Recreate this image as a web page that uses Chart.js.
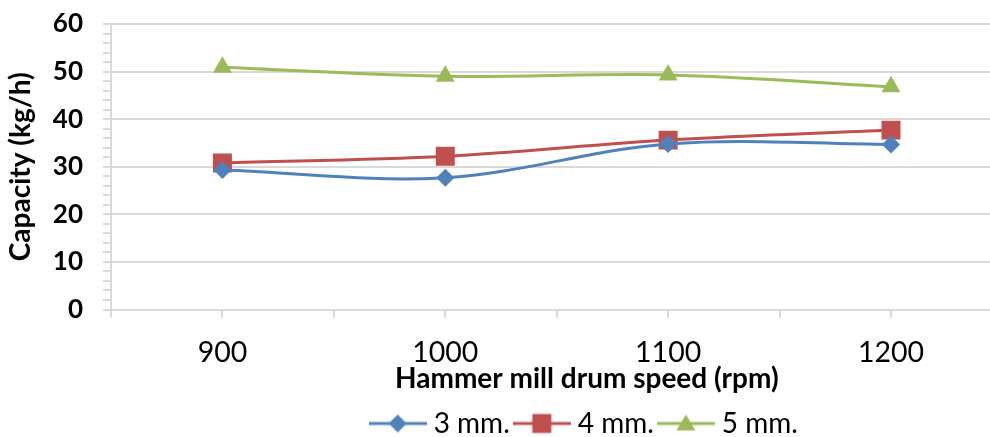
<!DOCTYPE html>
<html>
<head>
<meta charset="utf-8">
<title>Capacity vs drum speed</title>
<script src="https://cdn.jsdelivr.net/npm/chart.js@4.4.1/dist/chart.umd.min.js"></script>
<style>
    html, body { margin: 0; padding: 0; background: #fff; overflow: hidden; }
    #wrap { width: 990px; height: 437px; overflow: hidden; }
    canvas { display: block; }
</style>
</head>
<body>
<div id="wrap"><canvas id="chart" width="1076" height="437"></canvas></div>
<script>
// data
const speeds = [900, 1000, 1100, 1200];
const cap3mm = [29.3, 27.7, 34.8, 34.7];
const cap4mm = [30.8, 32.2, 35.6, 37.7];
const cap5mm = [50.9, 49.0, 49.3, 46.8];
const seriesNames = ['3 mm.', '4 mm.', '5 mm.'];
const yLabels = [0, 10, 20, 30, 40, 50, 60];

const colors = ['#4F81BD', '#C0504D', '#9BBB59'];
const gridGray = '#d9d9d9';

// legend icon: short line with the marker in the middle
function legendIcon(color, shape) {
    const c = document.createElement('canvas');
    c.width = 58;
    c.height = 24;
    const g = c.getContext('2d');
    g.strokeStyle = color;
    g.lineWidth = 3;
    g.beginPath();
    g.moveTo(0, 12);
    g.lineTo(58, 12);
    g.stroke();
    g.fillStyle = color;
    g.beginPath();
    if (shape === 'diamond') {
        g.moveTo(20, 12); g.lineTo(29, 3); g.lineTo(38, 12); g.lineTo(29, 21);
    } else if (shape === 'square') {
        g.rect(19.5, 2.5, 19, 19);
    } else {
        g.moveTo(29, 3); g.lineTo(38.5, 19); g.lineTo(19.5, 19);
    }
    g.closePath();
    g.fill();
    return c;
}
const icons = [legendIcon(colors[0], 'diamond'), legendIcon(colors[1], 'square'), legendIcon(colors[2], 'triangle')];

function toPoints(values) {
    return values.map((v, i) => ({ x: speeds[i], y: v }));
}

const ctx = document.getElementById('chart').getContext('2d');
new Chart(ctx, {
    type: 'line',
    data: {
        datasets: [{
            label: seriesNames[0],
            data: toPoints(cap3mm),
            borderColor: colors[0],
            backgroundColor: colors[0],
            borderWidth: 3,
            pointStyle: 'rectRot',
            pointRadius: 9,
            pointBorderWidth: 0,
            tension: 0.35
        }, {
            label: seriesNames[1],
            data: toPoints(cap4mm),
            borderColor: colors[1],
            backgroundColor: colors[1],
            borderWidth: 3,
            pointStyle: 'rect',
            pointRadius: 13.4,
            pointBorderWidth: 0,
            tension: 0.35
        }, {
            label: seriesNames[2],
            data: toPoints(cap5mm),
            borderColor: colors[2],
            backgroundColor: colors[2],
            borderWidth: 3,
            pointStyle: 'triangle',
            pointRadius: 11,
            pointBorderWidth: 0,
            tension: 0.35
        }]
    },
    options: {
        responsive: false,
        animation: false,
        layout: { padding: { top: 24, left: 0, right: 0, bottom: -10.5 } },
        plugins: {
            tooltip: { enabled: false },
            legend: {
                position: 'bottom',
                fullSize: false,
                labels: {
                    usePointStyle: true,
                    pointStyleWidth: 44,
                    padding: 10,
                    color: '#000',
                    font: { family: 'Lato', size: 28 },
                    generateLabels: function(chart) {
                        return chart.data.datasets.map((ds, i) => ({
                            text: ds.label,
                            pointStyle: icons[i],
                            fillStyle: ds.borderColor,
                            strokeStyle: ds.borderColor,
                            lineWidth: 0,
                            hidden: false,
                            datasetIndex: i,
                            fontColor: '#000'
                        }));
                    }
                }
            }
        },
        scales: {
            x: {
                type: 'linear',
                min: 850,
                max: 1277,
                afterFit: function(scale) {
                    scale.height = 90;
                    scale.paddingLeft = 0;
                    scale.paddingRight = 0;
                },
                grid: {
                    drawOnChartArea: false,
                    color: gridGray,
                    tickColor: gridGray,
                    tickLength: 8,
                    lineWidth: 2
                },
                border: { color: gridGray, width: 2 },
                ticks: {
                    stepSize: 50,
                    includeBounds: false,
                    autoSkip: false,
                    maxRotation: 0,
                    padding: 18,
                    color: '#000',
                    font: { family: 'Lato', size: 28.5 },
                    callback: v => speeds.includes(v) ? String(v) : ''
                },
                title: {
                    display: true,
                    text: 'Hammer mill drum speed (rpm)',
                    color: '#000',
                    font: { family: 'Lato', size: 28, weight: 'bold' },
                    padding: { top: 0, bottom: 4.2 }
                }
            },
            y: {
                min: 0,
                max: 60,
                afterFit: function(scale) {
                    scale.width = 111;
                    scale.paddingTop = 0;
                    scale.paddingBottom = 0;
                },
                grid: {
                    color: c => (c.tick && c.tick.value % 10 === 0) ? gridGray : 'rgba(0,0,0,0)',
                    tickColor: gridGray,
                    tickLength: 8,
                    lineWidth: 2
                },
                border: { color: gridGray, width: 2 },
                ticks: {
                    stepSize: 2,
                    autoSkip: false,
                    padding: 20,
                    color: '#000',
                    font: { family: 'Lato', size: 26, weight: 'bold' },
                    callback: v => yLabels.includes(v) ? String(v) : ''
                },
                title: {
                    display: true,
                    text: 'Capacity (kg/h)',
                    color: '#000',
                    font: { family: 'Lato', size: 28, weight: 'bold' },
                    padding: { top: 4, bottom: 0 }
                }
            }
        }
    }
});
</script>
</body>
</html>
